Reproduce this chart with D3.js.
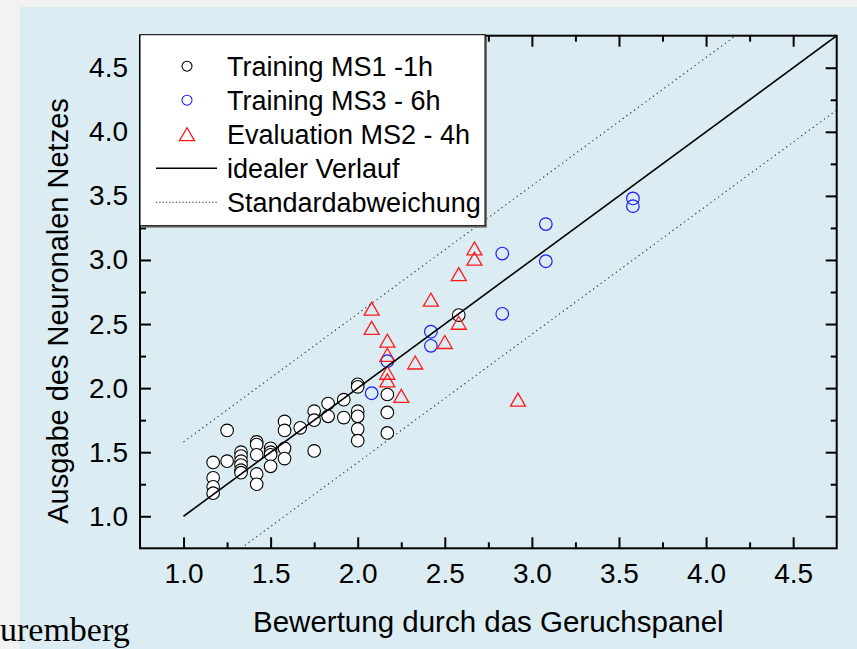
<!DOCTYPE html>
<html>
<head>
<meta charset="utf-8">
<script src="https://cdn.jsdelivr.net/npm/d3@7"></script>
<style>
  html, body { margin: 0; padding: 0; background: #f2f2f2; overflow: hidden; }
  svg { display: block; font-family: "Liberation Sans", Arial, sans-serif; }
</style>
</head>
<body>
<div id="chart"></div>
<script>
// panel ratings (x) and network output (y)
const ms1X = [1.17, 1.17, 1.17, 1.17, 1.25, 1.25, 1.33, 1.33, 1.33, 1.33, 1.33, 1.33,
    1.42, 1.42, 1.42, 1.42, 1.42, 1.50, 1.50, 1.50, 1.50, 1.58, 1.58, 1.58, 1.58,
    1.67, 1.75, 1.75, 1.75, 1.83, 1.83, 1.92, 1.92,
    2.00, 2.00, 2.00, 2.00, 2.00, 2.00, 2.17, 2.17, 2.17, 2.58];
const ms1Y = [1.42, 1.30, 1.23, 1.18, 1.67, 1.43, 1.50, 1.47, 1.43, 1.40, 1.36, 1.34,
    1.58, 1.56, 1.48, 1.33, 1.25, 1.53, 1.50, 1.48, 1.39, 1.74, 1.67, 1.53, 1.45,
    1.69, 1.82, 1.75, 1.51, 1.88, 1.78, 1.91, 1.77,
    2.03, 2.01, 1.82, 1.78, 1.68, 1.59, 1.95, 1.81, 1.65, 2.57];

const ms3X = [3.58, 3.58, 3.08, 3.08, 2.83, 2.83, 2.42, 2.42, 2.17, 2.08];
const ms3Y = [3.48, 3.42, 3.28, 2.99, 3.05, 2.58, 2.44, 2.33, 2.21, 1.96];

const ms2X = [2.67, 2.67, 2.58, 2.42, 2.08, 2.08, 2.17, 2.17, 2.17, 2.17, 2.33, 2.50, 2.58, 2.25, 2.92];
const ms2Y = [3.09, 3.01, 2.89, 2.69, 2.62, 2.47, 2.37, 2.26, 2.12, 2.06, 2.20, 2.36, 2.51, 1.94, 1.91];

// ideal line y = x and the +/- standard deviation band
const idealX = [1.0, 4.75];
const stdDev = 0.58;

const majorTicks = [1.0, 1.5, 2.0, 2.5, 3.0, 3.5, 4.0, 4.5];
const minorTicks = [1.25, 1.75, 2.25, 2.75, 3.25, 3.75, 4.25];
const axisDomain = [0.75, 4.75];

const legendLabels = ["Training MS1 -1h", "Training MS3 - 6h", "Evaluation MS2 - 4h",
    "idealer Verlauf", "Standardabweichung"];

const width = 857;
const height = 649;
const plotLeft = 140, plotRight = 836.7, plotTop = 35.7, plotBottom = 548.3;

const svg = d3.select("#chart").append("svg")
    .attr("width", width)
    .attr("height", height);

// light blue panel
svg.append("rect")
    .attr("x", 20).attr("y", 7)
    .attr("width", width).attr("height", height)
    .attr("fill", "#dbedf3");

const x = d3.scaleLinear().domain(axisDomain).range([plotLeft, plotRight]);
const y = d3.scaleLinear().domain(axisDomain).range([plotBottom, plotTop]);

svg.append("clipPath").attr("id", "plotClip")
    .append("rect")
    .attr("x", plotLeft).attr("y", plotTop)
    .attr("width", plotRight - plotLeft).attr("height", plotBottom - plotTop);

// axes with inward ticks on all four sides
function styleAxis(g) {
    g.selectAll(".domain").remove();
    g.selectAll(".tick line").attr("stroke", "#000").attr("stroke-width", 2);
    g.selectAll(".tick text").attr("font-size", 28).attr("fill", "#000");
}
const fmt = d3.format(".1f");

svg.append("g")
    .attr("transform", `translate(0,${plotBottom})`)
    .call(d3.axisBottom(x).tickValues(majorTicks).tickSize(-11).tickPadding(15).tickFormat(fmt))
    .call(styleAxis);
svg.append("g")
    .attr("transform", `translate(0,${plotBottom})`)
    .call(d3.axisBottom(x).tickValues(minorTicks).tickSize(-6).tickFormat(""))
    .call(styleAxis);
svg.append("g")
    .attr("transform", `translate(0,${plotTop})`)
    .call(d3.axisTop(x).tickValues(majorTicks).tickSize(-11).tickFormat(""))
    .call(styleAxis);
svg.append("g")
    .attr("transform", `translate(0,${plotTop})`)
    .call(d3.axisTop(x).tickValues(minorTicks).tickSize(-6).tickFormat(""))
    .call(styleAxis);

svg.append("g")
    .attr("transform", `translate(${plotLeft},0)`)
    .call(d3.axisLeft(y).tickValues(majorTicks).tickSize(-11).tickPadding(12).tickFormat(fmt))
    .call(styleAxis);
svg.append("g")
    .attr("transform", `translate(${plotLeft},0)`)
    .call(d3.axisLeft(y).tickValues(minorTicks).tickSize(-6).tickFormat(""))
    .call(styleAxis);
svg.append("g")
    .attr("transform", `translate(${plotRight},0)`)
    .call(d3.axisRight(y).tickValues(majorTicks).tickSize(-11).tickFormat(""))
    .call(styleAxis);
svg.append("g")
    .attr("transform", `translate(${plotRight},0)`)
    .call(d3.axisRight(y).tickValues(minorTicks).tickSize(-6).tickFormat(""))
    .call(styleAxis);

svg.append("rect")
    .attr("x", plotLeft).attr("y", plotTop)
    .attr("width", plotRight - plotLeft).attr("height", plotBottom - plotTop)
    .attr("fill", "none")
    .attr("stroke", "#000")
    .attr("stroke-width", 2);

// points
const plot = svg.append("g").attr("clip-path", "url(#plotClip)");
const triangle = "M0,-6.5L7.5,6.5L-7.5,6.5Z";

plot.append("g").selectAll("circle")
    .data(d3.zip(ms1X, ms1Y))
    .join("circle")
    .attr("cx", (d) => x(d[0]))
    .attr("cy", (d) => y(d[1]))
    .attr("r", 6.3)
    .attr("fill", "#fff")
    .attr("stroke", "#000")
    .attr("stroke-width", 1.1);

plot.append("g").selectAll("circle")
    .data(d3.zip(ms3X, ms3Y))
    .join("circle")
    .attr("cx", (d) => x(d[0]))
    .attr("cy", (d) => y(d[1]))
    .attr("r", 6.3)
    .attr("fill", "none")
    .attr("stroke", "#1a1aff")
    .attr("stroke-width", 1.2);

plot.append("g").selectAll("path")
    .data(d3.zip(ms2X, ms2Y))
    .join("path")
    .attr("d", triangle)
    .attr("transform", (d) => `translate(${x(d[0])},${y(d[1])})`)
    .attr("fill", "none")
    .attr("stroke", "#ff1a1a")
    .attr("stroke-width", 1.3);

// ideal line and standard deviation lines
const line = d3.line().x((d) => x(d[0])).y((d) => y(d[1]));
const idealPts = idealX.map((v) => [v, v]);
const upperPts = [idealX[0], axisDomain[1] - stdDev].map((v) => [v, v + stdDev]);
const lowerPts = [axisDomain[0] + stdDev, axisDomain[1]].map((v) => [v, v - stdDev]);

plot.append("path")
    .attr("d", line(idealPts))
    .attr("fill", "none")
    .attr("stroke", "#000")
    .attr("stroke-width", 1.6);

[upperPts, lowerPts].forEach((pts) => {
    plot.append("path")
        .attr("d", line(pts))
        .attr("fill", "none")
        .attr("stroke", "#333")
        .attr("stroke-width", 1.1)
        .attr("stroke-dasharray", "1.3,3.4");
});

// legend
const legend = svg.append("g").attr("transform", `translate(${plotLeft},${plotTop - 1})`);
legend.append("rect")
    .attr("x", 2).attr("y", 2)
    .attr("width", 345).attr("height", 191)
    .attr("fill", "#777");
legend.append("rect")
    .attr("width", 345).attr("height", 191)
    .attr("fill", "#fff")
    .attr("stroke", "#000")
    .attr("stroke-width", 1);

const rowY = (i) => 31.5 + i * 34;
legendLabels.forEach((label, i) => {
    legend.append("text")
        .attr("x", 87)
        .attr("y", rowY(i) + 10)
        .attr("font-size", 27)
        .attr("fill", "#000")
        .text(label);
});
legend.append("circle")
    .attr("cx", 47).attr("cy", rowY(0)).attr("r", 5)
    .attr("fill", "none").attr("stroke", "#000").attr("stroke-width", 1.1);
legend.append("circle")
    .attr("cx", 47).attr("cy", rowY(1)).attr("r", 5)
    .attr("fill", "none").attr("stroke", "#1a1aff").attr("stroke-width", 1.1);
legend.append("path")
    .attr("d", triangle)
    .attr("transform", `translate(47,${rowY(2)})`)
    .attr("fill", "none").attr("stroke", "#ff1a1a").attr("stroke-width", 1.3);
legend.append("line")
    .attr("x1", 16).attr("x2", 77).attr("y1", rowY(3)).attr("y2", rowY(3))
    .attr("stroke", "#000").attr("stroke-width", 1.6);
legend.append("line")
    .attr("x1", 16).attr("x2", 77).attr("y1", rowY(4)).attr("y2", rowY(4))
    .attr("stroke", "#333").attr("stroke-width", 1.1)
    .attr("stroke-dasharray", "1.3,2");

// axis titles
svg.append("text")
    .attr("x", (plotLeft + plotRight) / 2)
    .attr("y", 632)
    .attr("text-anchor", "middle")
    .attr("font-size", 29.5)
    .attr("fill", "#000")
    .text("Bewertung durch das Geruchspanel");

svg.append("text")
    .attr("transform", `translate(68,${(plotTop + plotBottom) / 2 + 19}) rotate(-90)`)
    .attr("text-anchor", "middle")
    .attr("font-size", 29)
    .attr("fill", "#000")
    .text("Ausgabe des Neuronalen Netzes");

// leftover text from the page below
svg.append("text")
    .attr("x", 0)
    .attr("y", 641)
    .attr("font-family", "'Liberation Serif', 'Times New Roman', serif")
    .attr("font-size", 34)
    .attr("fill", "#000")
    .text("uremberg");
</script>
</body>
</html>
